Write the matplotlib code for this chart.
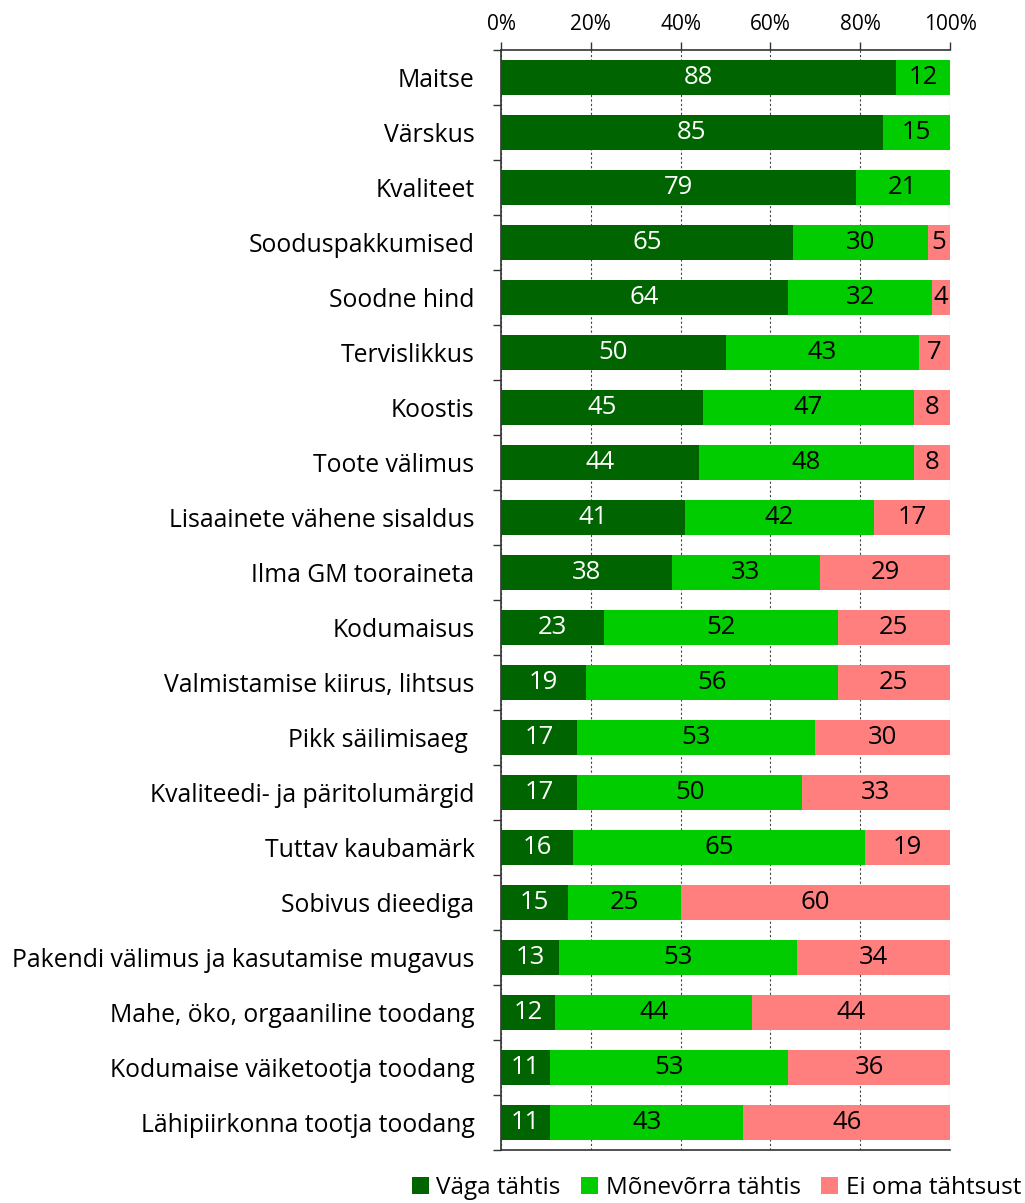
import matplotlib
matplotlib.use("Agg")
import matplotlib.pyplot as plt
import numpy as np

categories = ["Maitse", "Värskus", "Kvaliteet", "Sooduspakkumised", "Soodne hind",
              "Tervislikkus", "Koostis", "Toote välimus", "Lisaainete vähene sisaldus",
              "Ilma GM tooraineta", "Kodumaisus", "Valmistamise kiirus, lihtsus",
              "Pikk säilimisaeg ", "Kvaliteedi- ja päritolumärgid", "Tuttav kaubamärk",
              "Sobivus dieediga", "Pakendi välimus ja kasutamise mugavus",
              "Mahe, öko, orgaaniline toodang", "Kodumaise väiketootja toodang",
              "Lähipiirkonna tootja toodang"]
vaga = [88, 85, 79, 65, 64, 50, 45, 44, 41, 38, 23, 19, 17, 17, 16, 15, 13, 12, 11, 11]
monevorra = [12, 15, 21, 30, 32, 43, 47, 48, 42, 33, 52, 56, 53, 50, 65, 25, 53, 44, 53, 43]
ei = [0, 0, 0, 5, 4, 7, 8, 8, 17, 29, 25, 25, 30, 33, 19, 60, 34, 44, 36, 46]
series_names = ["Väga tähtis", "Mõnevõrra tähtis", "Ei oma tähtsust"]
colors = ["#006400", "#00CC00", "#FF7F7F"]
text_colors = ["white", "black", "black"]

plt.rcParams['font.family'] = ['Open Sans', 'DejaVu Sans']

fig = plt.figure(figsize=(10.25, 12.03), dpi=100)
ax = fig.add_axes([501/1025, 1-1150/1203, 449/1025, 1100/1203])

y = np.arange(len(categories))
left = np.zeros(len(categories))
for vals, name, c, tc in zip([vaga, monevorra, ei], series_names, colors, text_colors):
    vals = np.array(vals, dtype=float)
    ax.barh(y, vals, left=left, height=0.62, color=c, label=name, zorder=3)
    for yi, (l, v) in enumerate(zip(left, vals)):
        if v > 0:
            ax.text(l + v/2, yi, f"{int(v)}", ha='center', va='center',
                    color=tc, fontsize=18.5, zorder=4)
    left += vals

ax.set_xlim(0, 100)
ax.set_ylim(len(categories) - 0.5, -0.5)
ax.set_yticks(y)
ax.set_yticklabels(categories, fontsize=17.8)
ax.set_yticks(np.arange(-0.5, len(categories), 1), minor=True)
ax.tick_params(axis='y', which='major', length=0, pad=19)
ax.tick_params(axis='y', which='minor', length=6, width=1, color='#333333', direction='out')

ax.xaxis.tick_top()
ax.set_xticks([0, 20, 40, 60, 80, 100])
ax.set_xticklabels([f"{v}%" for v in [0, 20, 40, 60, 80, 100]], fontsize=15)
ax.tick_params(axis='x', length=6, width=1, color='#333333', direction='out', pad=5)
ax.grid(axis='x', linestyle=(0, (2, 2)), color='#444444', linewidth=0.8, zorder=0)

ax.spines['right'].set_visible(False)
for s in ['top', 'left', 'bottom']:
    ax.spines[s].set_color('#333333')
    ax.spines[s].set_linewidth(1.2)

fig.legend(loc='center right', bbox_to_anchor=(1021/1025, 1-1188/1203), ncol=3, frameon=False,
           fontsize=17.5, handlelength=0.7, handleheight=0.7, handletextpad=0.3,
           columnspacing=0.85, borderpad=0, borderaxespad=0)

fig.savefig("out.png", dpi=100)
